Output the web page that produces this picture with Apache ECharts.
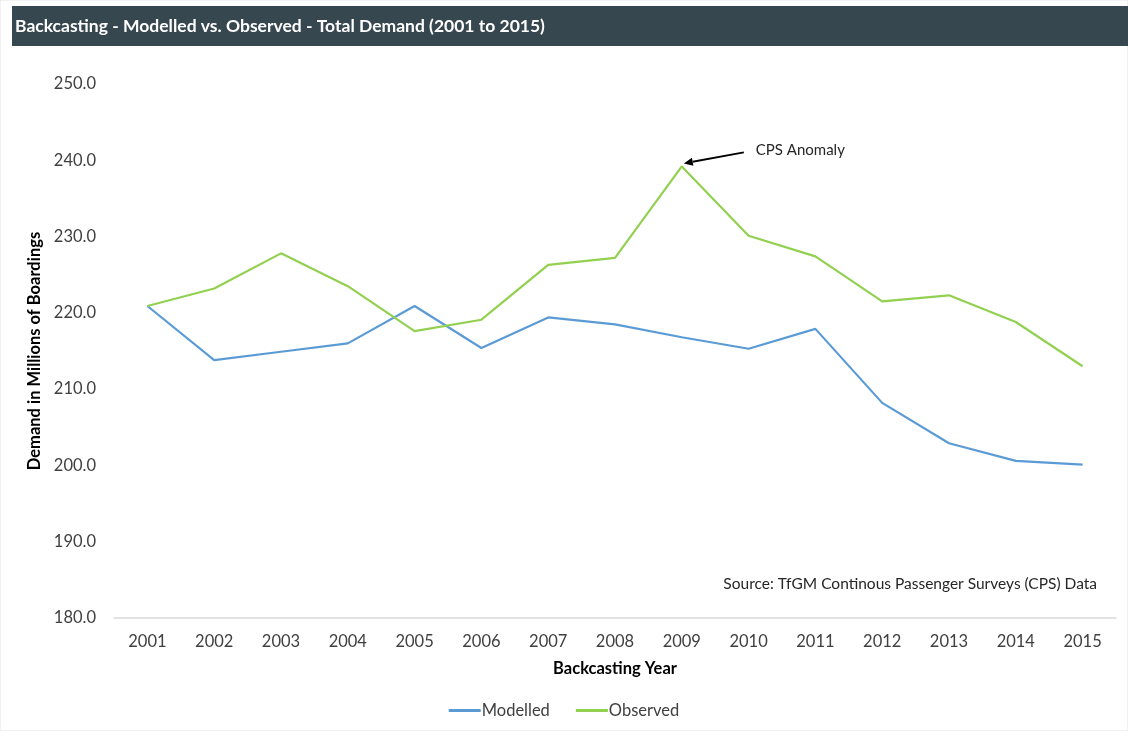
<!DOCTYPE html>
<html><head><meta charset="utf-8">
<script src="https://cdn.jsdelivr.net/npm/echarts@6/dist/echarts.min.js"></script>
<style>html,body{margin:0;padding:0;background:#fff}#c{width:1128px;height:731px}</style>
</head><body><div id="c"></div>
<script>
const years = ['2001','2002','2003','2004','2005','2006','2007','2008','2009','2010','2011','2012','2013','2014','2015'];
const modelled = [220.9,213.8,214.9,216.0,220.9,215.4,219.4,218.5,216.8,215.3,217.9,208.2,202.9,200.6,200.1];
const observed = [220.9,223.2,227.8,223.5,217.6,219.1,226.3,227.2,239.2,230.1,227.4,221.5,222.3,218.8,213.0];
const yTicks = {min:180, max:250, interval:10};
const FONT = 'Lato, "Open Sans", sans-serif';

const chart = echarts.init(document.getElementById('c'), null, {renderer:'canvas'});
chart.setOption({
  animation:false,
  textStyle:{fontFamily:FONT},
  grid:{left:114, right:12, top:84, bottom:113},
  xAxis:{
    type:'category', data:years, boundaryGap:true,
    name:'Backcasting Year', nameLocation:'middle', nameGap:42,
    nameTextStyle:{fontFamily:FONT, fontWeight:'bold', fontSize:16.5, color:'#000'},
    axisLine:{lineStyle:{color:'#d9d9d9', width:1.5}},
    axisTick:{show:false},
    axisLabel:{fontSize:16.5, color:'#404040', margin:15, fontFamily:FONT}
  },
  yAxis:{
    type:'value', min:yTicks.min, max:yTicks.max, interval:yTicks.interval,
    name:'Demand in Millions of Boardings', nameLocation:'middle', nameGap:61,
    nameTextStyle:{fontFamily:FONT, fontWeight:'bold', fontSize:16.5, color:'#000'},
    axisLine:{show:false}, axisTick:{show:false}, splitLine:{show:false},
    axisLabel:{fontSize:16.5, color:'#404040', margin:18, fontFamily:FONT, formatter:v=>v.toFixed(1)}
  },
  legend:{
    bottom:7, left:'center', itemWidth:32, itemHeight:3, itemGap:26,
    icon:'rect',
    textStyle:{fontSize:16.5, color:'#404040', fontFamily:FONT, padding:[0,0,0,-4]},
    data:['Modelled','Observed']
  },
  series:[
    {name:'Modelled', type:'line', data:modelled, symbol:'none', lineStyle:{color:'#5b9bd5', width:2.2}, itemStyle:{color:'#5b9bd5'}},
    {name:'Observed', type:'line', data:observed, symbol:'none', lineStyle:{color:'#92d050', width:2.2}, itemStyle:{color:'#92d050'}}
  ]
});

const peak = chart.convertToPixel({gridIndex:0}, ['2009', observed[8]]);
const tip = [peak[0]+2, peak[1]-3];
const start = [tip[0]+60, tip[1]-11];
const ang = Math.atan2(start[1]-tip[1], start[0]-tip[0]);
const L = 9, W = 4;
const bx = tip[0]+L*Math.cos(ang), by = tip[1]+L*Math.sin(ang);
const px = -Math.sin(ang)*W, py = Math.cos(ang)*W;

chart.setOption({
  graphic:[
    {type:'rect', shape:{x:0,y:0,width:1128,height:731}, style:{fill:'none', stroke:'#e3e3e3', lineWidth:1}, z:-1, silent:true},
    {type:'rect', shape:{x:12,y:6,width:1116,height:40}, style:{fill:'#37474f'}, silent:true},
    {type:'text', x:15, y:26, style:{text:'Backcasting - Modelled vs. Observed - Total Demand (2001 to 2015)', fill:'#fff', font:'bold 17.5px '+FONT, verticalAlign:'middle'}},
    {type:'line', shape:{x1:start[0], y1:start[1], x2:bx, y2:by}, style:{stroke:'#000', lineWidth:2}},
    {type:'polygon', shape:{points:[[tip[0],tip[1]],[bx+px,by+py],[bx-px,by-py]]}, style:{fill:'#000'}},
    {type:'text', x:start[0]+12, y:start[1]-2, style:{text:'CPS Anomaly', fill:'#262626', font:'15px '+FONT, verticalAlign:'middle'}},
    {type:'text', x:1097, y:584, style:{text:'Source: TfGM Continous Passenger Surveys (CPS) Data', fill:'#262626', font:'15.5px '+FONT, align:'right', verticalAlign:'middle'}}
  ]
});
</script></body></html>
